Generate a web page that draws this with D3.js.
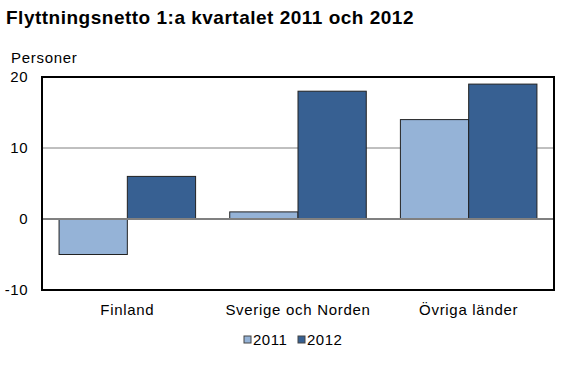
<!DOCTYPE html>
<html><head><meta charset="utf-8">
<script src="https://cdn.jsdelivr.net/npm/d3@7"></script>
<style>body{margin:0;background:#fff;} svg{display:block;font-family:"Liberation Sans",Arial,sans-serif;}</style>
</head><body>
<svg id="c" width="581" height="369"></svg>
<script>
const categories = ["Finland", "Sverige och Norden", "Övriga länder"];
const seriesNames = ["2011", "2012"];
const values2011 = [-5, 1, 14];
const values2012 = [6, 18, 19];
const yTicks = [-10, 0, 10, 20];
const colors = ["#95B3D7", "#376092"];

const svg = d3.select("#c");
const L = 42, R = 554, T = 77, B = 290;
const x = d3.scaleBand().domain(categories).range([L, R]).paddingInner(0.2).paddingOuter(0.1);
const xs = d3.scaleBand().domain(seriesNames).range([0, x.bandwidth()]);
const y = d3.scaleLinear().domain([-10, 20]).range([B, T]);

svg.append("text").attr("x", 6).attr("y", 24).attr("font-size", 19).attr("letter-spacing", 0.5).attr("font-weight", "bold").text("Flyttningsnetto 1:a kvartalet 2011 och 2012");
svg.append("text").attr("x", 11).attr("y", 63).attr("font-size", 15).attr("letter-spacing", 0.7).text("Personer");

// gridlines
svg.append("g").selectAll("line").data(yTicks.filter(d => d !== 0 && d !== 20 && d !== -10)).join("line")
  .attr("x1", L).attr("x2", R).attr("y1", d => y(d)).attr("y2", d => y(d))
  .attr("stroke", "#808080").attr("stroke-width", 1);

const data = categories.map((c, i) => ({c, vals: [values2011[i], values2012[i]]}));
const g = svg.append("g");
data.forEach(d => {
  d.vals.forEach((v, j) => {
    g.append("rect")
      .attr("x", x(d.c) + xs(seriesNames[j]))
      .attr("width", xs.bandwidth())
      .attr("y", y(Math.max(0, v)))
      .attr("height", Math.abs(y(v) - y(0)))
      .attr("fill", colors[j]).attr("stroke", "#222").attr("stroke-width", 1);
  });
});
// zero line
svg.append("line").attr("x1", L).attr("x2", R).attr("y1", y(0)).attr("y2", y(0)).attr("stroke", "#808080").attr("stroke-width", 2);
// border
svg.append("rect").attr("x", L).attr("y", T).attr("width", R - L).attr("height", B - T).attr("fill", "none").attr("stroke", "#000").attr("stroke-width", 2);

// y tick labels
svg.append("g").selectAll("text").data(yTicks).join("text")
  .attr("x", 28).attr("y", d => y(d) + 5).attr("text-anchor", "end").attr("font-size", 15).attr("letter-spacing", 0.5).text(d => d);

// category labels
svg.append("g").selectAll("text").data(categories).join("text")
  .attr("x", d => x(d) + x.bandwidth() / 2).attr("y", 315).attr("text-anchor", "middle").attr("font-size", 15).attr("letter-spacing", 0.7).text(d => d);

// legend
const lg = svg.append("g");
const lx = [244, 298];
seriesNames.forEach((s, j) => {
  lg.append("rect").attr("x", lx[j]).attr("y", 336).attr("width", 7).attr("height", 7).attr("fill", colors[j]).attr("stroke", "#444").attr("stroke-width", 1);
  lg.append("text").attr("x", lx[j] + 9).attr("y", 345).attr("font-size", 15).attr("letter-spacing", 0.5).text(s);
});
</script>
</body></html>
